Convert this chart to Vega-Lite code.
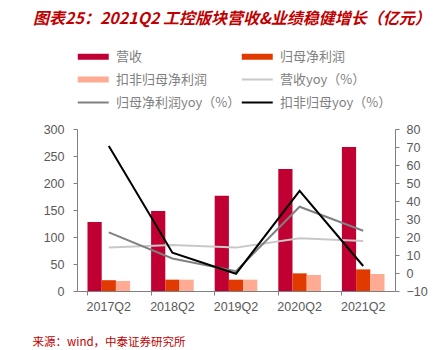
{
  "$schema": "https://vega.github.io/schema/vega-lite/v6.json",
  "autosize": {"type": "none"},
  "width": 318,
  "height": 162,
  "padding": {"left": 77, "top": 129, "right": 52, "bottom": 59},
  "background": "white",
  "config": {"view": {"stroke": null}, "font": "Liberation Sans"},
  "title": {
    "text": "图表25：2021Q2 工控版块营收&业绩稳健增长（亿元）",
    "anchor": "start",
    "frame": "group",
    "dx": -44,
    "offset": 23,
    "font": "Noto Sans CJK SC",
    "fontSize": 16,
    "fontStyle": "italic",
    "fontWeight": "bold",
    "color": "#C00000"
  },
  "data": {
    "values": [
      {"q": "2017Q2", "s": "营收", "v": 128},
      {"q": "2018Q2", "s": "营收", "v": 148},
      {"q": "2019Q2", "s": "营收", "v": 176.5},
      {"q": "2020Q2", "s": "营收", "v": 226},
      {"q": "2021Q2", "s": "营收", "v": 266.5},
      {"q": "2017Q2", "s": "归母净利润", "v": 20},
      {"q": "2018Q2", "s": "归母净利润", "v": 21},
      {"q": "2019Q2", "s": "归母净利润", "v": 21},
      {"q": "2020Q2", "s": "归母净利润", "v": 32.7},
      {"q": "2021Q2", "s": "归母净利润", "v": 40},
      {"q": "2017Q2", "s": "扣非归母净利润", "v": 18.5},
      {"q": "2018Q2", "s": "扣非归母净利润", "v": 21},
      {"q": "2019Q2", "s": "扣非归母净利润", "v": 21},
      {"q": "2020Q2", "s": "扣非归母净利润", "v": 29.6},
      {"q": "2021Q2", "s": "扣非归母净利润", "v": 31.5},
      {"q": "2017Q2", "s": "营收yoy（%）", "y": 14.1},
      {"q": "2018Q2", "s": "营收yoy（%）", "y": 15.5},
      {"q": "2019Q2", "s": "营收yoy（%）", "y": 14.1},
      {"q": "2020Q2", "s": "营收yoy（%）", "y": 19.3},
      {"q": "2021Q2", "s": "营收yoy（%）", "y": 17.8},
      {"q": "2017Q2", "s": "归母净利润yoy（%）", "y": 22.6},
      {"q": "2018Q2", "s": "归母净利润yoy（%）", "y": 8.1},
      {"q": "2019Q2", "s": "归母净利润yoy（%）", "y": 1},
      {"q": "2020Q2", "s": "归母净利润yoy（%）", "y": 36.8},
      {"q": "2021Q2", "s": "归母净利润yoy（%）", "y": 23.5},
      {"q": "2017Q2", "s": "扣非归母yoy（%）", "y": 70.6},
      {"q": "2018Q2", "s": "扣非归母yoy（%）", "y": 11.3},
      {"q": "2019Q2", "s": "扣非归母yoy（%）", "y": -0.4},
      {"q": "2020Q2", "s": "扣非归母yoy（%）", "y": 45.6},
      {"q": "2021Q2", "s": "扣非归母yoy（%）", "y": 3.9}
    ]
  },
  "encoding": {
    "x": {
      "field": "q",
      "type": "nominal",
      "scale": {"paddingInner": 0.33, "paddingOuter": 0.165},
      "axis": {
        "title": "来源：wind，中泰证券研究所",
        "titleFont": "Noto Sans CJK SC",
        "titleFontSize": 11.5,
        "titleFontWeight": "normal",
        "titleColor": "#C00000",
        "titleAnchor": "start",
        "titleAlign": "left",
        "titleBaseline": "middle",
        "titleX": -45,
        "titleY": 51,
        "labelAngle": 0,
        "labelFontSize": 12.5,
        "labelColor": "#595959",
        "labelPadding": 5,
        "domainColor": "#7F7F7F",
        "tickColor": "#7F7F7F",
        "tickSize": 4,
        "bandPosition": 0,
        "grid": false
      }
    },
    "color": {
      "field": "s",
      "type": "nominal",
      "scale": {
        "domain": ["营收", "扣非归母净利润", "归母净利润yoy（%）", "归母净利润", "营收yoy（%）", "扣非归母yoy（%）"],
        "range": ["#C00033", "#FFAA92", "#808080", "#E03A00", "#C8C8C8", "#000000"]
      },
      "legend": {
        "title": null,
        "orient": "none",
        "legendX": 2,
        "legendY": -79,
        "columns": 2,
        "symbolType": "M-1,0H3",
        "symbolSize": 240,
        "symbolStrokeWidth": 2,
        "labelFont": "Noto Sans CJK SC",
        "labelFontSize": 13,
        "labelColor": "#7F7F7F",
        "labelOffset": 24,
        "columnPadding": -12,
        "rowPadding": -2,
        "gridAlign": "all",
        "encode": {
          "symbols": {
            "update": {
              "stroke": {"signal": "scale('color', datum.value)"},
              "strokeWidth": {"signal": "indexof(['营收','归母净利润','扣非归母净利润'], datum.value) >= 0 ? 6 : 2"},
              "opacity": {"value": 1}
            }
          }
        }
      }
    }
  },
  "layer": [
    {
      "transform": [{"filter": "datum.v != null"}],
      "mark": {"type": "bar"},
      "encoding": {
        "xOffset": {"field": "s", "type": "nominal", "sort": ["营收", "归母净利润", "扣非归母净利润"], "scale": {"paddingInner": 0, "paddingOuter": 0}},
        "y": {
          "field": "v",
          "type": "quantitative",
          "scale": {"domain": [0, 300], "nice": false},
          "axis": {
            "title": null,
            "values": [0, 50, 100, 150, 200, 250, 300],
            "labelFontSize": 12.5,
            "labelColor": "#595959",
            "labelPadding": 9,
            "tickSize": 4,
            "domainColor": "#7F7F7F",
            "tickColor": "#7F7F7F",
            "grid": false
          }
        }
      }
    },
    {
      "transform": [{"filter": "datum.y != null"}],
      "mark": {"type": "line", "strokeWidth": 2},
      "encoding": {
        "y": {
          "field": "y",
          "type": "quantitative",
          "scale": {"domain": [-10, 80], "nice": false, "zero": false},
          "axis": {
            "title": null,
            "orient": "right",
            "values": [-10, 0, 10, 20, 30, 40, 50, 60, 70, 80],
            "labelFontSize": 12.5,
            "labelColor": "#595959",
            "labelPadding": 7,
            "tickSize": 4,
            "domainColor": "#7F7F7F",
            "tickColor": "#7F7F7F",
            "grid": false
          }
        }
      }
    }
  ],
  "resolve": {"scale": {"y": "independent"}}
}
